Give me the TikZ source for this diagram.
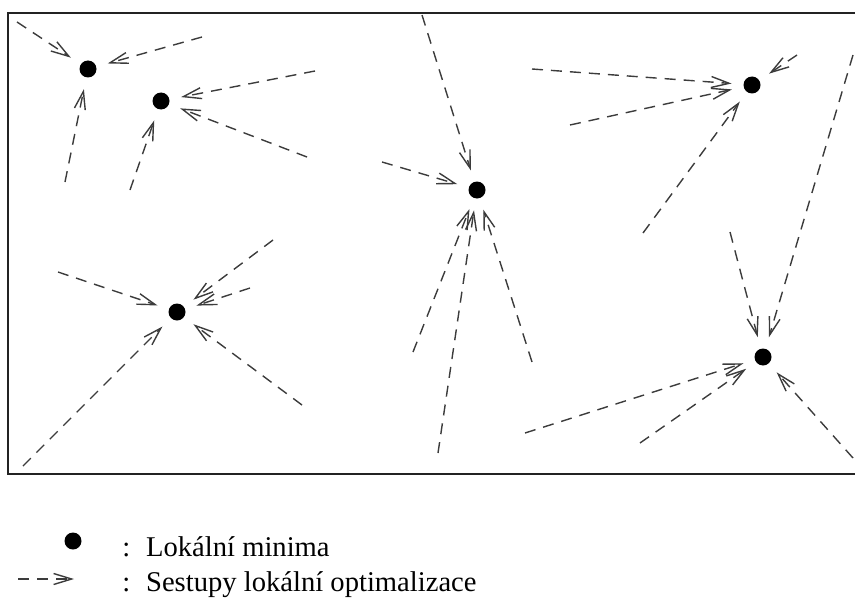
\documentclass[tikz,border=0pt]{standalone}
\usepackage{fontspec}
\setmainfont{Liberation Serif}
\usetikzlibrary{arrows.meta,positioning}
\definecolor{ink}{RGB}{0,0,0}
\definecolor{dashgray}{RGB}{60,60,60}
\definecolor{framegray}{RGB}{35,35,35}
\tikzset{
  localmin/.style={circle,fill=ink,minimum size=8.5pt,inner sep=0pt,outer sep=6pt},
  descend/.style={-{Straight Barb[length=9pt,width=5.5pt]},line width=0.7pt,draw=dashgray,dash pattern=on 5.5pt off 4pt},
  frame/.style={line width=1pt,draw=framegray},
  legend/.style={font=\fontsize{14.3pt}{16pt}\selectfont,inner sep=0pt,anchor=base west}
}
\begin{document}
\begin{tikzpicture}[x=0.5pt,y=-0.5pt]
  \useasboundingbox (0,0) rectangle (855,599);
  \draw[frame] (8,13) rectangle (870,474);
  % local minima
  \node[localmin] (mA) at (88,69) {};
  \node[localmin] (mB) at (161,101) {};
  \node[localmin] (mC) at (477,190) {};
  \node[localmin] (mD) at (752,85) {};
  \node[localmin] (mE) at (177,312) {};
  \node[localmin] (mF) at (763,357) {};
  % where the descents start
  \coordinate (a1) at (17,22); \coordinate (a2) at (202,37); \coordinate (a3) at (65,182);
  \coordinate (b1) at (315,71); \coordinate (b2) at (307,157); \coordinate (b3) at (130,190);
  \coordinate (c1) at (422,15); \coordinate (c2) at (382,162); \coordinate (c3) at (413,352);
  \coordinate (c4) at (438,453); \coordinate (c5) at (532,362);
  \coordinate (d1) at (532,69); \coordinate (d2) at (570,125); \coordinate (d3) at (643,233);
  \coordinate (d4) at (797,55);
  \coordinate (e1) at (58,272); \coordinate (e2) at (273,240); \coordinate (e3) at (250,288);
  \coordinate (e4) at (23,466); \coordinate (e5) at (302,405);
  \coordinate (f1) at (853,55); \coordinate (f2) at (730,232); \coordinate (f3) at (525,433);
  \coordinate (f4) at (640,443); \coordinate (f5) at (853,458);
  % descents
  \draw[descend] (a1)--(mA); \draw[descend] (a2)--(mA); \draw[descend] (a3)--(mA);
  \draw[descend] (b1)--(mB); \draw[descend] (b2)--(mB); \draw[descend] (b3)--(mB);
  \draw[descend] (c1)--(mC); \draw[descend] (c2)--(mC); \draw[descend] (c3)--(mC);
  \draw[descend] (c4)--(mC); \draw[descend] (c5)--(mC);
  \draw[descend] (d1)--(mD); \draw[descend] (d2)--(mD); \draw[descend] (d3)--(mD);
  \draw[descend] (d4)--(mD);
  \draw[descend] (e1)--(mE); \draw[descend] (e2)--(mE); \draw[descend] (e3)--(mE);
  \draw[descend] (e4)--(mE); \draw[descend] (e5)--(mE);
  \draw[descend] (f1)--(mF); \draw[descend] (f2)--(mF); \draw[descend] (f3)--(mF);
  \draw[descend] (f4)--(mF); \draw[descend] (f5)--(mF);
  % legend
  \node[localmin,outer sep=0pt] (keymin) at (73,541) {};
  \coordinate (keyA) at (18,579); \coordinate (keyB) at (74,579);
  \draw[descend] (keyA)--(keyB);
  \node[legend] (colonA) at (122,556) {:};
  \node[legend] (colonB) at (122,591) {:};
  \node[legend,base right=7.5pt of colonA] (minlabel) {Lokální minima};
  \node[legend,base right=7.5pt of colonB] (desclabel) {Sestupy lokální optimalizace};
\end{tikzpicture}
\end{document}
